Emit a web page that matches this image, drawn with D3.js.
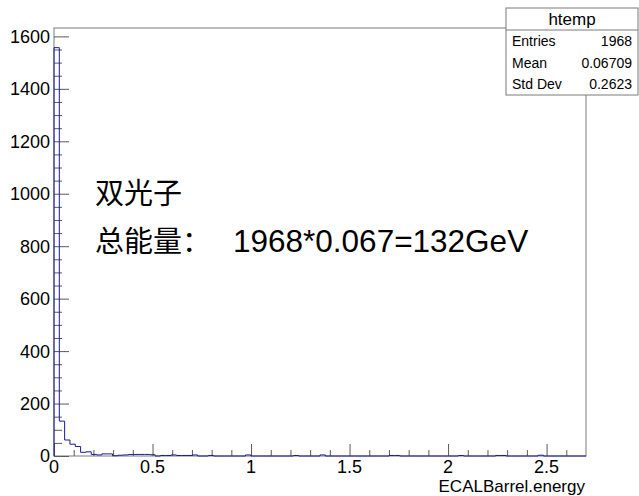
<!DOCTYPE html>
<html>
<head>
<meta charset="utf-8">
<script src="https://cdn.jsdelivr.net/npm/d3@7/dist/d3.min.js"></script>
<style>
  html, body { margin: 0; padding: 0; background: #fff; }
  svg { display: block; }
  text { font-family: "Liberation Sans", Arial, "Noto Sans CJK SC", sans-serif; fill: #000; }
</style>
</head>
<body>
<svg id="chart" width="639" height="496"></svg>
<script>
// ECALBarrel.energy histogram: 100 bins on [0, 2.7]
const xRange = [0, 2.7];
const binCounts = [
  1557, 133, 61, 45, 36, 14, 16, 6, 4, 8,
  8, 1, 3, 4, 6, 6, 6, 6, 5, 0,
  2, 2, 4, 2, 2, 2, 4, 0, 0, 2,
  0, 0, 0, 0, 0, 0, 4, 0, 0, 0,
  0, 0, 0, 0, 0, 2, 0, 0, 0, 0,
  4, 0, 0, 0, 0, 0, 0, 0, 0, 0,
  0, 0, 0, 2, 2, 0, 0, 0, 0, 0,
  0, 0, 0, 0, 0, 0, 2, 0, 0, 0,
  0, 0, 0, 2, 2, 0, 0, 0, 0, 0,
  0, 3, 0, 0, 0, 0, 0, 0, 0, 0
];
const yMax = 1632;
const xMajorTicks = [0, 0.5, 1, 1.5, 2, 2.5];
const xTickLabels = ["0", "0.5", "1", "1.5", "2", "2.5"];
const yMajorTicks = [0, 200, 400, 600, 800, 1000, 1200, 1400, 1600];
const yTickLabels = ["0", "200", "400", "600", "800", "1000", "1200", "1400", "1600"];
const xTitle = "ECALBarrel.energy";

const statTitle = "htemp";
const statNames = ["Entries", "Mean", "Std Dev"];
const statValues = ["1968", "0.06709", "0.2623"];

const noteLine1 = "双光子";
const noteLine2Cjk = "总能量：";
const noteLine2Latin = "1968*0.067=132GeV";

const svg = d3.select("#chart");
const frame = { left: 54, right: 586, top: 28, bottom: 456 };

const x = d3.scaleLinear().domain(xRange).range([frame.left, frame.right]);
const y = d3.scaleLinear().domain([0, yMax]).range([frame.bottom, frame.top]);

const axisColor = "#5a5a5a";
const frameColor = "#7a7a7a";

// frame
svg.append("rect")
  .attr("x", frame.left).attr("y", frame.top)
  .attr("width", frame.right - frame.left).attr("height", frame.bottom - frame.top)
  .attr("fill", "#fff").attr("stroke", frameColor).attr("stroke-width", 1);

// y axis: major ticks every 200, minor every 50, drawn inward
const yAxis = d3.axisRight(y).tickValues(yMajorTicks).tickSize(15).tickFormat("");
const gy = svg.append("g").attr("transform", `translate(${frame.left},0)`).call(yAxis);
gy.select(".domain").remove();
gy.selectAll("line").attr("stroke", axisColor);
const yMinor = d3.range(0, 1601, 50).filter(v => v % 200 !== 0);
const yAxisMinor = d3.axisRight(y).tickValues(yMinor).tickSize(8).tickFormat("");
const gy2 = svg.append("g").attr("transform", `translate(${frame.left},0)`).call(yAxisMinor);
gy2.select(".domain").remove();
gy2.selectAll("line").attr("stroke", axisColor);

svg.append("g").selectAll("text").data(yMajorTicks).join("text")
  .attr("x", frame.left - 4)
  .attr("y", d => y(d))
  .attr("dy", "0.36em")
  .attr("text-anchor", "end")
  .attr("font-size", 18)
  .text((d, i) => yTickLabels[i]);

// x axis: major every 0.5, minor every 0.1, drawn upward
const xAxis = d3.axisTop(x).tickValues(xMajorTicks).tickSize(12).tickFormat("");
const gx = svg.append("g").attr("transform", `translate(0,${frame.bottom})`).call(xAxis);
gx.select(".domain").remove();
gx.selectAll("line").attr("stroke", axisColor);
const xMinor = d3.range(1, 27).map(v => v / 10).filter(v => Math.abs(v * 2 - Math.round(v * 2)) > 1e-6);
const xAxisMinor = d3.axisTop(x).tickValues(xMinor).tickSize(6).tickFormat("");
const gx2 = svg.append("g").attr("transform", `translate(0,${frame.bottom})`).call(xAxisMinor);
gx2.select(".domain").remove();
gx2.selectAll("line").attr("stroke", axisColor);

svg.append("g").selectAll("text").data(xMajorTicks).join("text")
  .attr("x", d => x(d))
  .attr("y", frame.bottom + 17)
  .attr("text-anchor", "middle")
  .attr("font-size", 18)
  .text((d, i) => xTickLabels[i]);

svg.append("text")
  .attr("x", frame.right - 1)
  .attr("y", 492)
  .attr("text-anchor", "end")
  .attr("font-size", 17)
  .text(xTitle);

// histogram outline
const nBins = binCounts.length;
const binW = (xRange[1] - xRange[0]) / nBins;
const pts = [[xRange[0], 0]];
binCounts.forEach((c, i) => {
  pts.push([xRange[0] + i * binW, c]);
  pts.push([xRange[0] + (i + 1) * binW, c]);
});
pts.push([xRange[1], 0]);
const line = d3.line().x(d => x(d[0])).y(d => y(d[1]));
svg.append("path")
  .attr("d", line(pts))
  .attr("fill", "none")
  .attr("stroke", "#1a1a99")
  .attr("stroke-width", 1);

// annotation
svg.append("text")
  .attr("x", 95).attr("y", 204)
  .attr("font-size", 29)
  .style("font-family", "'Noto Sans CJK SC', sans-serif")
  .text(noteLine1);
const t2 = svg.append("text").attr("y", 252).attr("font-size", 29);
t2.append("tspan").attr("x", 95)
  .style("font-family", "'Noto Sans CJK SC', sans-serif")
  .text(noteLine2Cjk);
t2.append("tspan").attr("x", 233)
  .attr("font-size", 31.5)
  .style("font-family", "'Liberation Sans', Arial, sans-serif")
  .text(noteLine2Latin);

// statistics box
const box = { left: 506, right: 638, top: 8, sep: 30, bottom: 95 };
svg.append("rect")
  .attr("x", box.left).attr("y", box.top)
  .attr("width", box.right - box.left).attr("height", box.bottom - box.top)
  .attr("fill", "#fff").attr("stroke", frameColor).attr("stroke-width", 1);
svg.append("line")
  .attr("x1", box.left).attr("x2", box.right)
  .attr("y1", box.sep).attr("y2", box.sep)
  .attr("stroke", frameColor);
svg.append("text")
  .attr("x", (box.left + box.right) / 2).attr("y", (box.top + box.sep) / 2)
  .attr("dy", "0.36em")
  .attr("text-anchor", "middle")
  .attr("font-size", 17)
  .text(statTitle);
const rowH = (box.bottom - box.sep) / statNames.length;
statNames.forEach((nm, i) => {
  const cy = box.sep + rowH * (i + 0.5);
  svg.append("text")
    .attr("x", box.left + 6).attr("y", cy).attr("dy", "0.36em")
    .attr("font-size", 14).text(nm);
  svg.append("text")
    .attr("x", box.right - 6).attr("y", cy).attr("dy", "0.36em")
    .attr("text-anchor", "end")
    .attr("font-size", 14).text(statValues[i]);
});
</script>
</body>
</html>
